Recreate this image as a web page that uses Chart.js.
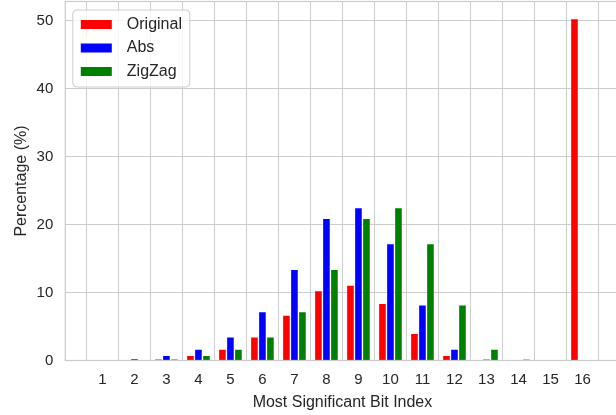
<!DOCTYPE html>
<html>
<head>
<meta charset="utf-8">
<script src="https://cdn.jsdelivr.net/npm/chart.js@4/dist/chart.umd.min.js"></script>
<style>
  html, body { margin: 0; padding: 0; background: #ffffff; overflow: hidden; }
  #wrap { width: 616px; height: 415px; overflow: hidden; position: relative; }
  canvas { display: block; }
</style>
</head>
<body>
<div id="wrap"><canvas id="c" width="622" height="415"></canvas></div>
<script>
// ---- Data ----
const categories = [1, 2, 3, 4, 5, 6, 7, 8, 9, 10, 11, 12, 13, 14, 15, 16];
const seriesNames = ["Original", "Abs", "ZigZag"];
const originalValues = [0.0, 0.0, 0.25, 0.75, 1.7, 3.5, 6.7, 10.3, 11.1, 8.4, 4.0, 0.75, 0.05, 0.0, 0.0, 50.3];
const absValues      = [0.0, 0.3, 0.75, 1.7, 3.5, 7.2, 13.4, 20.9, 22.5, 17.2, 8.2, 1.7, 0.2, 0.0, 0.0, 0.0];
const zigzagValues   = [0.0, 0.05, 0.25, 0.75, 1.7, 3.5, 7.2, 13.4, 20.9, 22.5, 17.2, 8.2, 1.7, 0.2, 0.0, 0.0];
const yTickValues = [0, 10, 20, 30, 40, 50];
const xAxisTitle = "Most Significant Bit Index";
const yAxisTitle = "Percentage (%)";

const seriesColors = ["#ff0000", "#0000ff", "#008000"];
const allSeries = [originalValues, absValues, zigzagValues];

const FONT = "'Liberation Sans', Arial, Helvetica, sans-serif";
const TEXT = "#262626";
const GRID = "#cccccc";

const datasets = allSeries.map((vals, i) => ({
  label: seriesNames[i],
  data: categories.map((c, j) => ({ x: c, y: vals[j] })),
  backgroundColor: seriesColors[i],
  borderColor: "#ffffff",
  borderWidth: 0.7,
  categoryPercentage: 0.75,
  barPercentage: 1.0
}));

// frame (spines) on all four sides
const framePlugin = {
  id: "frame",
  afterDatasetsDraw(chart) {
    const { ctx, chartArea: a } = chart;
    ctx.save();
    ctx.strokeStyle = GRID;
    ctx.lineWidth = 1.25;
    ctx.strokeRect(a.left, a.top, a.right - a.left, a.bottom - a.top);
    ctx.restore();
  }
};

// matplotlib-style legend box in upper-left corner of the axes
const boxLegend = {
  id: "boxLegend",
  afterDraw(chart) {
    const { ctx, chartArea: a } = chart;
    const x0 = a.left + 7.5, y0 = a.top + 8.5, w = 117, h = 77, r = 4;
    ctx.save();
    ctx.beginPath();
    ctx.moveTo(x0 + r, y0);
    ctx.lineTo(x0 + w - r, y0);
    ctx.quadraticCurveTo(x0 + w, y0, x0 + w, y0 + r);
    ctx.lineTo(x0 + w, y0 + h - r);
    ctx.quadraticCurveTo(x0 + w, y0 + h, x0 + w - r, y0 + h);
    ctx.lineTo(x0 + r, y0 + h);
    ctx.quadraticCurveTo(x0, y0 + h, x0, y0 + h - r);
    ctx.lineTo(x0, y0 + r);
    ctx.quadraticCurveTo(x0, y0, x0 + r, y0);
    ctx.closePath();
    ctx.fillStyle = "rgba(255,255,255,0.8)";
    ctx.fill();
    ctx.strokeStyle = GRID;
    ctx.lineWidth = 1;
    ctx.stroke();
    ctx.font = "16px " + FONT;
    ctx.textBaseline = "middle";
    ctx.textAlign = "left";
    chart.data.datasets.forEach((ds, i) => {
      const cy = y0 + 14.5 + i * 23.5;
      ctx.fillStyle = ds.backgroundColor;
      ctx.fillRect(x0 + 8, cy - 4.5, 31, 9);
      ctx.fillStyle = TEXT;
      ctx.fillText(ds.label, x0 + 54, cy);
    });
    ctx.restore();
  }
};

new Chart(document.getElementById("c"), {
  type: "bar",
  data: { datasets },
  options: {
    responsive: false,
    animation: false,
    layout: { padding: { top: 1.5, right: 2.4, left: 0, bottom: 0 } },
    plugins: { legend: { display: false }, tooltip: { enabled: false } },
    scales: {
      x: {
        type: "linear",
        min: -0.16,
        max: 17.16,
        offset: false,
        afterBuildTicks: (axis) => { axis.ticks = categories.map(v => ({ value: v })); },
        afterFit: (axis) => { axis.height = 54.5; axis.paddingLeft = 0; axis.paddingRight = 0; },
        ticks: { color: TEXT, font: { family: FONT, size: 15 }, padding: 10, maxRotation: 0, autoSkip: false,
                 callback: (v) => String(v) },
        grid: { color: GRID, lineWidth: 1, drawTicks: false },
        border: { display: false },
        title: { display: true, text: xAxisTitle, color: TEXT, font: { family: FONT, size: 16 },
                 padding: { top: 0, bottom: 3 } }
      },
      y: {
        type: "linear",
        min: 0,
        max: 52.8,
        afterBuildTicks: (axis) => { axis.ticks = yTickValues.map(v => ({ value: v })); },
        afterFit: (axis) => { axis.width = 65.3; axis.paddingTop = 0; axis.paddingBottom = 0; },
        ticks: { color: TEXT, font: { family: FONT, size: 15 }, padding: 12 },
        grid: { color: GRID, lineWidth: 1, drawTicks: false },
        border: { display: false },
        title: { display: true, text: yAxisTitle, color: TEXT, font: { family: FONT, size: 16 },
                 padding: { top: 12, bottom: 0 } }
      }
    }
  },
  plugins: [framePlugin, boxLegend]
});
</script>
</body>
</html>
